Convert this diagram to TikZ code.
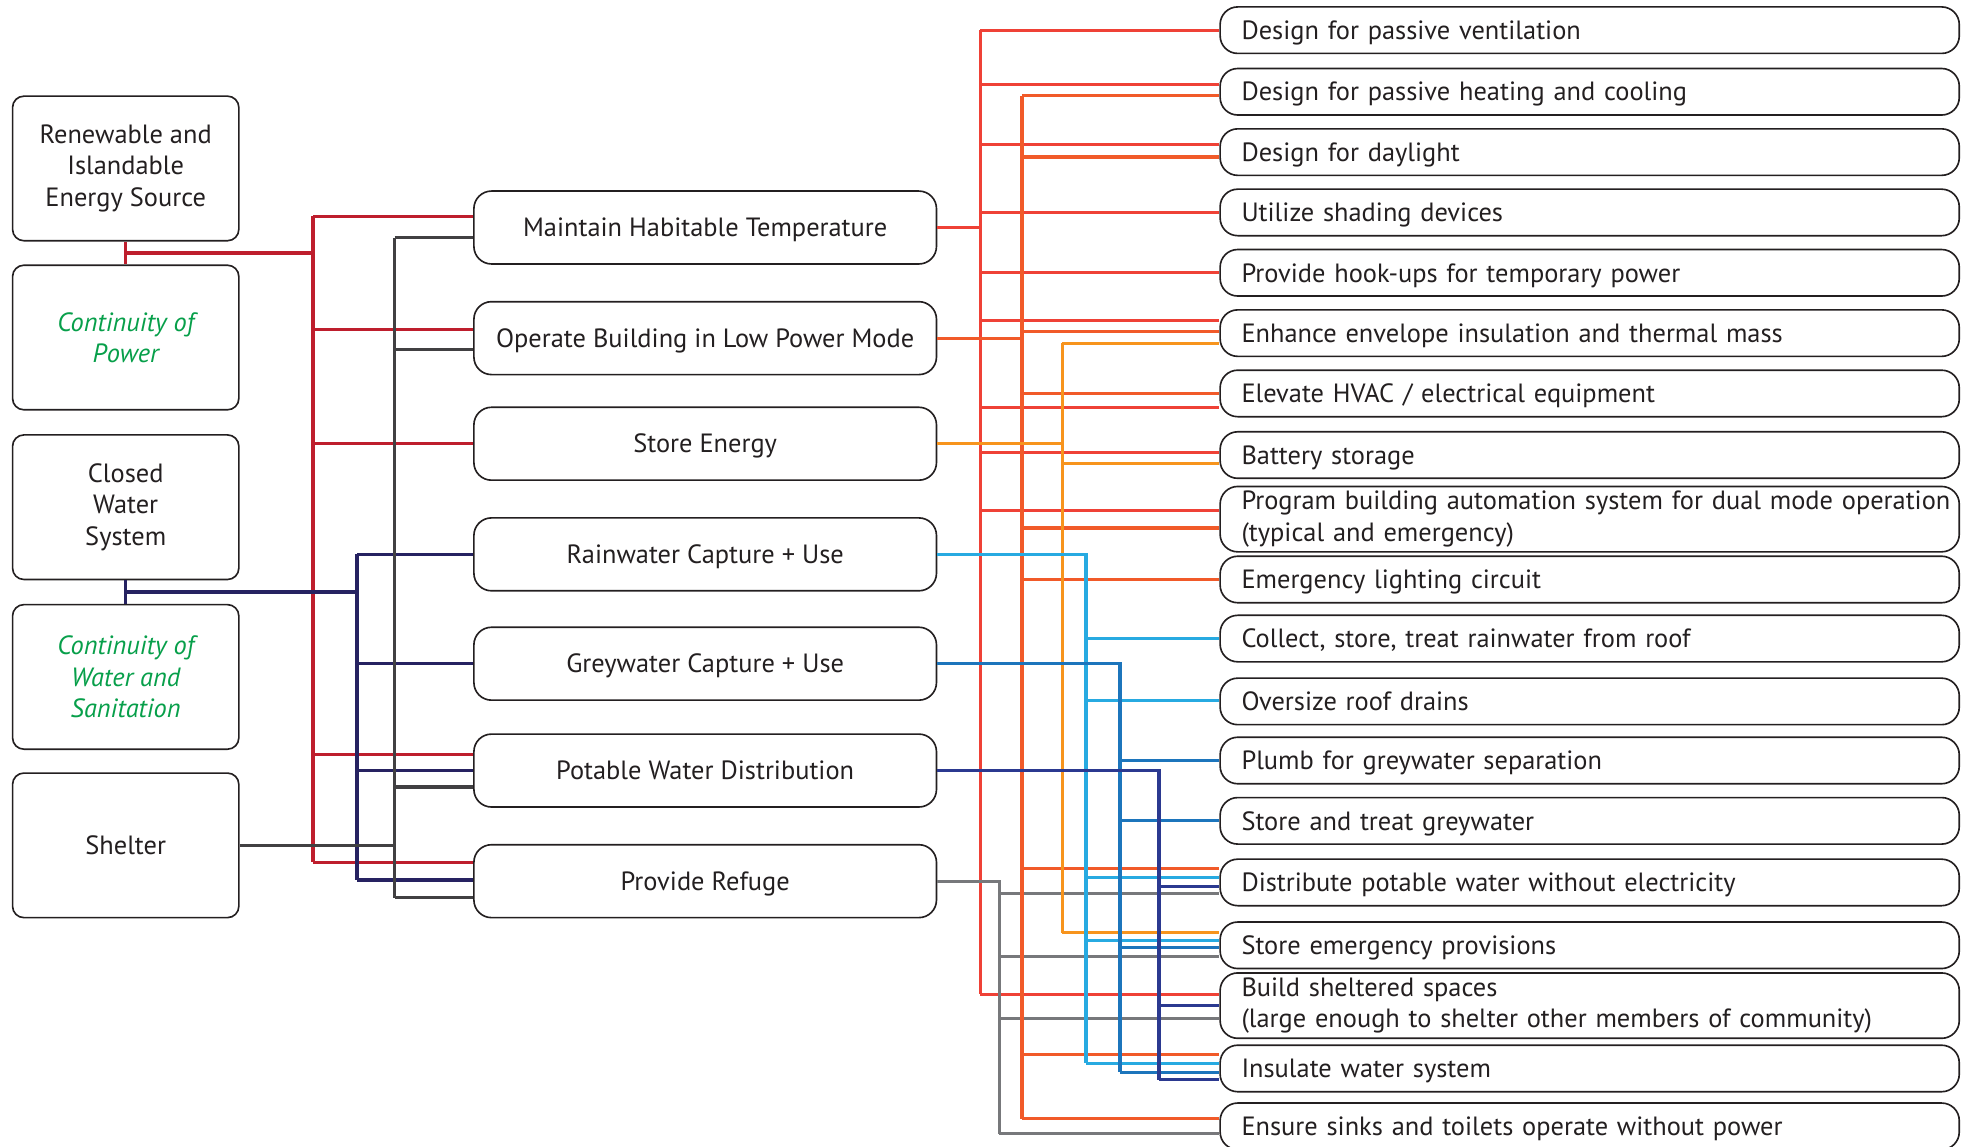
\documentclass[tikz,border=0pt]{standalone}
\usepackage{fontspec}
\setmainfont{PT Sans}
\usepackage{xcolor}
\usetikzlibrary{positioning,calc}

\definecolor{pwrred}{HTML}{BE1E2D}
\definecolor{shgrey}{HTML}{414042}
\definecolor{watnavy}{HTML}{262261}
\definecolor{tmpred}{HTML}{EF4136}
\definecolor{lowora}{HTML}{F15A29}
\definecolor{stoora}{HTML}{F7941D}
\definecolor{rainblue}{HTML}{27AAE1}
\definecolor{greyblue}{HTML}{1C75BC}
\definecolor{potnavy}{HTML}{2B3990}
\definecolor{refgrey}{HTML}{77787B}
\definecolor{goalgreen}{HTML}{079F4A}
\definecolor{inkgrey}{HTML}{231F20}

\begin{document}
\begin{tikzpicture}[
    x=1pt, y=-1pt,
    goal/.style={rectangle, draw=inkgrey, line width=1.3pt, rounded corners=9pt, minimum width=180pt, minimum height=115pt, align=center, text=inkgrey, font=\fontsize{21}{25}\selectfont},
    cont/.style={text=goalgreen, font=\fontsize{21}{25}\selectfont\itshape},
    func/.style={rectangle, draw=inkgrey, line width=1.3pt, rounded corners=14pt, minimum width=368pt, minimum height=58pt, text height=14.7pt, text depth=0pt, text=inkgrey, font=\fontsize{21}{25}\selectfont},
    actbox/.style={rectangle, draw=inkgrey, line width=1.3pt, rounded corners=14pt, anchor=west, text width=574pt, inner xsep=7pt, inner ysep=2pt, align=left, execute at begin node={\leftskip=10pt}, text=inkgrey, font=\fontsize{21}{25}\selectfont},
    act/.style={actbox, minimum height=37pt, text height=14.7pt, text depth=0pt},
    acttwo/.style={actbox, minimum height=52pt},
    link/.style={line width=2.6pt},
    powerline/.style={link, draw=pwrred},
    shelterline/.style={link, draw=shgrey},
    waterline/.style={link, draw=watnavy},
    templine/.style={link, draw=tmpred},
    lowline/.style={link, draw=lowora},
    storeline/.style={link, draw=stoora},
    rainline/.style={link, draw=rainblue},
    greyline/.style={link, draw=greyblue},
    potline/.style={link, draw=potnavy},
    refline/.style={link, draw=refgrey}
]
    \useasboundingbox (0,0) rectangle (1568,912);

    % Goals
    \node[goal] (ren) at (100,134) {Renewable and\\Islandable\\Energy Source};
    \node[goal, cont] (cpow) at (100,268.5) {Continuity of\\Power};
    \node[goal] (cws) at (100,403.5) {Closed\\Water\\System};
    \node[goal, cont] (cwat) at (100,538.5) {Continuity of\\Water and\\Sanitation};
    \node[goal] (shel) at (100,672.5) {Shelter};

    % Functions
    \node[func] (mht) at (561,181) {Maintain Habitable Temperature};
    \node[func] (obl) at (561,269) {Operate Building in Low Power Mode};
    \node[func] (ste) at (561,353) {Store Energy};
    \node[func] (rcu) at (561,441) {Rainwater Capture + Use};
    \node[func] (gcu) at (561,528) {Greywater Capture + Use};
    \node[func] (pwd) at (561,613) {Potable Water Distribution};
    \node[func] (prf) at (561,701) {Provide Refuge};

    % Strategies
    \node[act] (pv) at (970,24) {Design for passive ventilation};
    \node[act] (phc) at (970,73) {Design for passive heating and cooling};
    \node[act] (dl) at (970,121) {Design for daylight};
    \node[act] (sd) at (970,169) {Utilize shading devices};
    \node[act] (hu) at (970,217) {Provide hook-ups for temporary power};
    \node[act] (ei) at (970,265) {Enhance envelope insulation and thermal mass};
    \node[act] (el) at (970,313) {Elevate HVAC / electrical equipment};
    \node[act] (bs) at (970,362) {Battery storage};
    \node[acttwo] (bas) at (970,413) {\mbox{Program building automation system for dual mode operation}\\(typical and emergency)};
    \node[act] (elc) at (970,461) {Emergency lighting circuit};
    \node[act] (rwr) at (970,508) {Collect, store, treat rainwater from roof};
    \node[act] (ord) at (970,558) {Oversize roof drains};
    \node[act] (gws) at (970,605) {Plumb for greywater separation};
    \node[act] (stg) at (970,653) {Store and treat greywater};
    \node[act] (dpw) at (970,702) {Distribute potable water without electricity};
    \node[act] (sep) at (970,752) {Store emergency provisions};
    \node[acttwo] (bss) at (970,800) {Build sheltered spaces\\(large enough to shelter other members of community)};
    \node[act] (iws) at (970,850) {Insulate water system};
    \node[act] (sst) at (970,896) {Ensure sinks and toilets operate without power};

    % Bus positions
    \coordinate (pwrbus) at (249,0);
    \coordinate (watbus) at (284,0);
    \coordinate (shlbus) at (314,0);
    \coordinate (tmpbus) at (780,0);
    \coordinate (refbus) at (795,0);
    \coordinate (lowbus) at (813,0);
    \coordinate (stobus) at (845,0);
    \coordinate (rainbus) at (864,0);
    \coordinate (greybus) at (891,0);
    \coordinate (potbus) at (922,0);

    % Power
    \coordinate (pwrjoin) at ($(ren.south)!.5!(cpow.north)$);
    \draw[powerline] (ren.south) -- (cpow.north);
    \draw[powerline] (pwrjoin) -- (pwrjoin -| pwrbus);
    \draw[powerline] (pwrbus |- 0,172) -- (pwrbus |- 0,686);
    \foreach \n/\y in {mht/172, obl/262, ste/353, pwd/600, prf/686}
        \draw[powerline] (pwrbus |- 0,\y) -- (\n.west |- 0,\y);

    % Water
    \coordinate (watjoin) at ($(cws.south)!.5!(cwat.north)$);
    \draw[waterline] (cws.south) -- (cwat.north);
    \draw[waterline] (watjoin) -- (watjoin -| watbus);
    \draw[waterline] (watbus |- 0,441) -- (watbus |- 0,700);
    \foreach \n/\y in {rcu/441, gcu/528, pwd/613, prf/700}
        \draw[waterline] (watbus |- 0,\y) -- (\n.west |- 0,\y);

    % Shelter
    \draw[shelterline] (shel.east) -- (shel.east -| shlbus);
    \draw[shelterline] (shlbus |- 0,189) -- (shlbus |- 0,714);
    \foreach \n/\y in {mht/189, obl/278, pwd/626, prf/714}
        \draw[shelterline] (shlbus |- 0,\y) -- (\n.west |- 0,\y);

    % Maintain Habitable Temperature
    \draw[templine] (mht.east) -- (mht.east -| tmpbus);
    \draw[templine] (tmpbus |- 0,24) -- (tmpbus |- 0,791);
    \foreach \n/\y in {pv/24, phc/67, dl/115, sd/169, hu/217, ei/255, el/324, bs/360, bas/406, bss/791}
        \draw[templine] (tmpbus |- 0,\y) -- (\n.west |- 0,\y);

    % Provide Refuge
    \draw[refline] (prf.east) -- (prf.east -| refbus) -- (refbus |- 0,902);
    \foreach \n/\y in {dpw/711, sep/761, bss/810, sst/902}
        \draw[refline] (refbus |- 0,\y) -- (\n.west |- 0,\y);

    % Operate Building in Low Power Mode
    \draw[lowline] (obl.east) -- (obl.east -| lowbus);
    \draw[lowline] (lowbus |- 0,76) -- (lowbus |- 0,890);
    \foreach \n/\y in {phc/76, dl/125, ei/264, el/313, bas/420, elc/461, dpw/691, iws/839, sst/890}
        \draw[lowline] (lowbus |- 0,\y) -- (\n.west |- 0,\y);

    % Store Energy
    \draw[storeline] (ste.east) -- (ste.east -| stobus);
    \draw[storeline] (stobus |- 0,273) -- (stobus |- 0,742);
    \foreach \n/\y in {ei/273, bs/369, sep/742}
        \draw[storeline] (stobus |- 0,\y) -- (\n.west |- 0,\y);

    % Rainwater Capture + Use
    \draw[rainline] (rcu.east) -- (rcu.east -| rainbus) -- (rainbus |- 0,846);
    \foreach \n/\y in {rwr/508, ord/557, dpw/698, sep/748, iws/846}
        \draw[rainline] (rainbus |- 0,\y) -- (\n.west |- 0,\y);

    % Greywater Capture + Use
    \draw[greyline] (gcu.east) -- (gcu.east -| greybus) -- (greybus |- 0,853);
    \foreach \n/\y in {gws/605, stg/653, sep/754, iws/853}
        \draw[greyline] (greybus |- 0,\y) -- (\n.west |- 0,\y);

    % Potable Water Distribution
    \draw[potline] (pwd.east) -- (pwd.east -| potbus) -- (potbus |- 0,859);
    \foreach \n/\y in {dpw/705, bss/800, iws/859}
        \draw[potline] (potbus |- 0,\y) -- (\n.west |- 0,\y);
\end{tikzpicture}
\end{document}
